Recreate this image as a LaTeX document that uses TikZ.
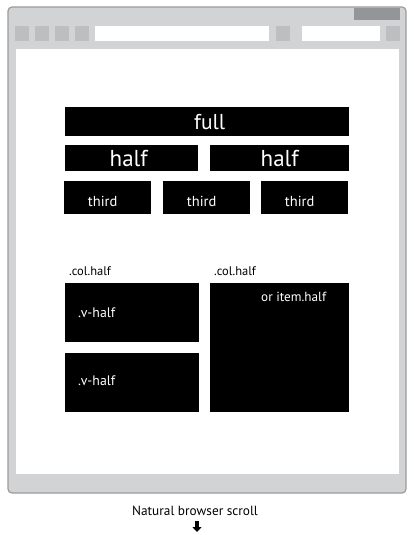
\documentclass[tikz,border=0pt]{standalone}
\usepackage{fontspec}
\setmainfont{PT Sans}
\usetikzlibrary{positioning,arrows.meta}

\definecolor{framegray}{HTML}{D2D3D5}
\definecolor{frameline}{HTML}{9B9B9B}
\definecolor{buttongray}{HTML}{BDBEC0}
\definecolor{tabgray}{HTML}{939598}

\tikzset{
  block/.style={fill=black, text=white, inner sep=0pt, anchor=north west},
  blocktext/.style={text=white, inner sep=0pt},
}

\begin{document}
\begin{tikzpicture}[x=1pt, y=-1pt]
  \useasboundingbox (0,0) rectangle (414,535);
  % browser window
  \draw[frameline, fill=framegray, line width=1.2pt, rounded corners=4pt] (8,7) rectangle (406,493);
  \fill[tabgray] (354,8.5) rectangle (400,20);
  \foreach \x in {15,35,55,75}
    \fill[buttongray] (\x,26) rectangle ++(14,15);
  \fill[white] (95,26) rectangle (269,41);
  \fill[buttongray] (276,26) rectangle (290,41);
  \fill[white] (302,26) rectangle (380,41);
  \fill[buttongray] (386,26) rectangle (400,41);
  \fill[white] (16,49) rectangle (399,474);

  % rows
  \node[block, minimum width=284pt, minimum height=29pt, font=\fontsize{21.5}{21.5}\selectfont] (full) at (65,107) {\hspace{5pt}full};
  \node[block, minimum width=133pt, minimum height=26pt, font=\fontsize{23}{23}\selectfont] (halfA) at (65,145) {\hspace{-6pt}half};
  \node[block, minimum width=139pt, minimum height=26pt, font=\fontsize{23}{23}\selectfont] (halfB) at (210,145) {half};
  \node[block, minimum width=87pt, minimum height=33pt] (thirdA) at (64,181) {};
  \node[block, minimum width=87pt, minimum height=33pt] (thirdB) at (163,181) {};
  \node[block, minimum width=87pt, minimum height=33pt] (thirdC) at (261,181) {};
  \foreach \b in {thirdA,thirdB,thirdC}
    \node[blocktext, font=\fontsize{14.5}{14.5}\selectfont] at ([xshift=-5pt,yshift=-4pt]\b.center) {third};

  % columns
  \node[anchor=west, font=\fontsize{12.5}{12.5}\selectfont, inner sep=0pt] (colA) at (69,271) {.col.half};
  \node[anchor=west, font=\fontsize{12.5}{12.5}\selectfont, inner sep=0pt] (colB) at (214,271) {.col.half};
  \node[block, minimum width=134pt, minimum height=59pt] (vhalfA) at (65,283) {};
  \node[block, minimum width=134pt, minimum height=59pt] (vhalfB) at (65,353) {};
  \node[block, minimum width=139pt, minimum height=129pt] (item) at (210,283) {};
  \node[blocktext, anchor=west, font=\fontsize{13.8}{13.8}\selectfont] at ([xshift=13pt]vhalfA.west) {.v-half};
  \node[blocktext, anchor=west, font=\fontsize{13.8}{13.8}\selectfont] at ([xshift=13pt,yshift=2pt]vhalfB.west) {.v-half};
  \node[blocktext, anchor=west, font=\fontsize{13.2}{13.2}\selectfont] at ([xshift=51pt,yshift=-14pt]item.north west) {or item.half};

  % scroll hint
  \node[font=\fontsize{13.3}{13.3}\selectfont, inner sep=0pt] (scroll) at (195,511) {Natural browser scroll};
  \coordinate (arrowtop) at ([xshift=2pt,yshift=-5pt]scroll.south);
  \coordinate (arrowend) at ([xshift=2pt,yshift=-16pt]scroll.south);
  \draw[line width=3.5pt, -{Triangle[width=9pt,length=5pt]}] (arrowtop) -- (arrowend);
\end{tikzpicture}
\end{document}
